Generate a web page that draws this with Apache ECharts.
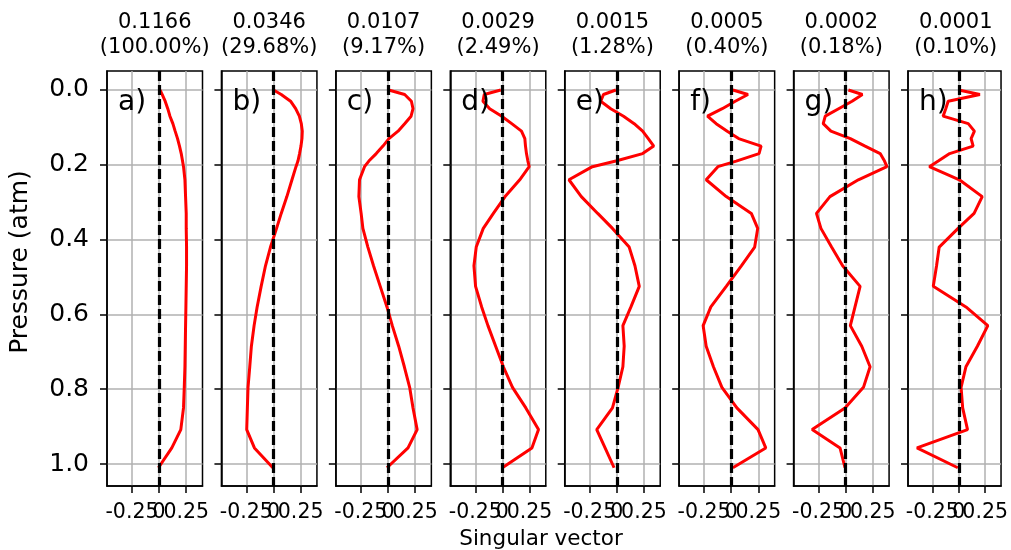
<!DOCTYPE html>
<html>
<head>
<meta charset="utf-8">
<script src="https://cdn.jsdelivr.net/npm/echarts@6/dist/echarts.min.js"></script>
<style>
html,body{margin:0;padding:0;background:#fff;}
#chart{width:1011px;height:550px;}
</style>
</head>
<body>
<div id="chart"></div>
<script>
// ---- data ----
const pressure = [0, 0.012, 0.03, 0.05, 0.07, 0.09, 0.11, 0.13, 0.15, 0.17, 0.19, 0.205, 0.24, 0.285, 0.33, 0.37, 0.42, 0.47, 0.525, 0.58, 0.63, 0.685, 0.74, 0.795, 0.85, 0.908, 0.957, 1.01];
const sv_a = [0.01, 0.028, 0.056, 0.08, 0.10, 0.127, 0.148, 0.17, 0.188, 0.204, 0.216, 0.225, 0.238, 0.244, 0.25, 0.25, 0.253, 0.253, 0.25, 0.247, 0.244, 0.241, 0.238, 0.232, 0.225, 0.20, 0.117, -0.006];
const sv_b = [0, 0.071, 0.157, 0.204, 0.238, 0.256, 0.265, 0.262, 0.253, 0.24, 0.225, 0.207, 0.17, 0.123, 0.071, 0.028, -0.028, -0.074, -0.114, -0.151, -0.179, -0.204, -0.219, -0.235, -0.241, -0.247, -0.176, -0.006];
const sv_c = [0.006, 0.154, 0.216, 0.231, 0.213, 0.154, 0.093, 0.009, -0.046, -0.108, -0.176, -0.216, -0.262, -0.268, -0.247, -0.231, -0.185, -0.133, -0.071, -0.009, 0.04, 0.099, 0.151, 0.2, 0.231, 0.269, 0.185, -0.009];
const sv_d = [-0.015, -0.167, -0.179, -0.117, -0.006, 0.086, 0.176, 0.207, 0.213, 0.222, 0.235, 0.247, 0.16, 0.025, -0.083, -0.176, -0.241, -0.262, -0.247, -0.191, -0.133, -0.062, 0.009, 0.093, 0.216, 0.333, 0.272, 0];
const sv_e = [-0.009, -0.123, -0.148, -0.056, 0.062, 0.16, 0.238, 0.29, 0.34, 0.238, -0.009, -0.225, -0.441, -0.327, -0.176, -0.04, 0.114, 0.167, 0.207, 0.13, 0.056, 0.068, 0.056, 0.012, -0.04, -0.185, -0.108, -0.025];
const sv_f = [0.015, 0.154, 0.037, -0.083, -0.219, -0.139, -0.037, 0.068, 0.275, 0.256, 0.046, -0.123, -0.231, -0.046, 0.185, 0.244, 0.216, 0.093, -0.046, -0.188, -0.259, -0.231, -0.164, -0.086, 0.052, 0.247, 0.318, 0.015];
const sv_g = [0.025, 0.154, 0.059, -0.065, -0.188, -0.207, -0.136, 0.043, 0.179, 0.318, 0.358, 0.38, 0.117, -0.145, -0.269, -0.228, -0.13, -0.028, 0.133, 0.086, 0.043, 0.148, 0.225, 0.164, -0.006, -0.309, -0.052, -0.006];
const sv_h = [0.0, 0.2, -0.1, -0.123, -0.148, 0.09, 0.148, 0.117, 0.136, -0.086, -0.194, -0.278, 0.006, 0.222, 0.145, -0.006, -0.185, -0.21, -0.241, 0.068, 0.275, 0.176, 0.068, 0.022, 0.037, 0.083, -0.395, -0.009];
const singularValues = ['0.1166', '0.0346', '0.0107', '0.0029', '0.0015', '0.0005', '0.0002', '0.0001'];
const percents = ['(100.00%)', '(29.68%)', '(9.17%)', '(2.49%)', '(1.28%)', '(0.40%)', '(0.18%)', '(0.10%)'];
const panelLetters = ['a)', 'b)', 'c)', 'd)', 'e)', 'f)', 'g)', 'h)'];
const xTickValues = [-0.25, 0, 0.25];
const xTickLabels = ['-0.25', '0', '0.25'];
const yTickValues = [0, 0.2, 0.4, 0.6, 0.8, 1.0];
const yTickLabels = ['0.0', '0.2', '0.4', '0.6', '0.8', '1.0'];
const zeroLine = 0;
const xLabel = 'Singular vector';
const yLabel = 'Pressure (atm)';

// ---- layout ----
const allSeries = [sv_a, sv_b, sv_c, sv_d, sv_e, sv_f, sv_g, sv_h];
const FONT = 'DejaVu Sans';
const L0 = 107, STEP = 114.43, W = 95.5, TOP = 71, H = 415;
const XMIN = -0.48, XMAX = 0.40, YMIN = -0.0508, YMAX = 1.0588;

function pick(values, labels, v) {
  const k = values.findIndex(t => Math.abs(t - v) < 1e-9);
  return k >= 0 ? labels[k] : '';
}
// split x tick labels in two groups so ECharts does not drop overlapping ones
const xOuterVals = xTickValues.filter(v => v !== 0);
const xInnerVals = xTickValues.filter(v => v === 0);

const grids = [], xAxes = [], yAxes = [], series = [], graphics = [];
const xLabelStyle = {margin: 16, color: '#000', fontFamily: FONT, fontSize: 20.5,
  hideOverlap: false, showMinLabel: true, showMaxLabel: true,
  formatter: v => pick(xTickValues, xTickLabels, v)};
allSeries.forEach((vals, i) => {
  const left = L0 + i * STEP;
  grids.push({left: left, top: TOP, width: W, height: H, show: true,
    borderColor: '#000', borderWidth: 1.5, backgroundColor: 'transparent'});
  xAxes.push({
    type: 'value', gridIndex: i, min: XMIN, max: XMAX, position: 'bottom',
    axisLine: {show: true, onZero: false, lineStyle: {color: '#000', width: 1.5}},
    axisTick: {show: true, inside: false, length: 7, customValues: xTickValues, lineStyle: {color: '#000', width: 1.5}},
    axisLabel: Object.assign({show: true, customValues: xOuterVals}, xLabelStyle),
    splitLine: {show: true, lineStyle: {color: '#b0b0b0', width: 1.5}}
  });
  xAxes.push({
    type: 'value', gridIndex: i, min: XMIN, max: XMAX, position: 'bottom',
    axisLine: {show: false, onZero: false},
    axisTick: {show: false},
    axisLabel: Object.assign({show: true, customValues: xInnerVals}, xLabelStyle),
    splitLine: {show: false}
  });
  yAxes.push({
    type: 'value', gridIndex: i, min: YMIN, max: YMAX, inverse: true,
    axisLine: {show: true, onZero: false, lineStyle: {color: '#000', width: 1.5}},
    axisTick: {show: true, inside: false, length: 7, customValues: yTickValues, lineStyle: {color: '#000', width: 1.5}},
    axisLabel: {show: i === 0, customValues: yTickValues, margin: 18, color: '#000',
      fontFamily: FONT, fontSize: 25, showMinLabel: true, showMaxLabel: true,
      formatter: v => pick(yTickValues, yTickLabels, v)},
    splitLine: {show: true, lineStyle: {color: '#b0b0b0', width: 1.5}}
  });
  series.push({
    type: 'line', xAxisIndex: 2 * i, yAxisIndex: i,
    data: vals.map((v, k) => [v, pressure[k]]),
    showSymbol: false, symbol: 'none', smooth: false, z: 3,
    lineStyle: {color: '#ff0000', width: 3},
    markLine: {
      silent: true, symbol: 'none', z: 5, animation: false,
      label: {show: false},
      lineStyle: {color: '#000', type: [10, 4], width: 3.2},
      data: [{xAxis: zeroLine}]
    }
  });
  const cx = left + W / 2;
  graphics.push({type: 'text', x: cx, y: 35, z: 10,
    style: {text: singularValues[i] + '\n' + percents[i], fontFamily: FONT, fontSize: 21,
      lineHeight: 25, fill: '#000', align: 'center', verticalAlign: 'middle'}});
  graphics.push({type: 'text', x: left + 11, y: 103, z: 10,
    style: {text: panelLetters[i], fontFamily: FONT, fontSize: 28, fill: '#000',
      align: 'left', verticalAlign: 'middle'}});
});
graphics.push({type: 'text', x: 20, y: 262, rotation: Math.PI / 2, z: 10,
  style: {text: yLabel, fontFamily: FONT, fontSize: 25, fill: '#000', align: 'center', verticalAlign: 'middle'}});
graphics.push({type: 'text', x: 541, y: 539, z: 10,
  style: {text: xLabel, fontFamily: FONT, fontSize: 21.5, fill: '#000', align: 'center', verticalAlign: 'middle'}});

const chart = echarts.init(document.getElementById('chart'), null, {renderer: 'canvas'});
chart.setOption({
  animation: false,
  backgroundColor: '#fff',
  grid: grids, xAxis: xAxes, yAxis: yAxes, series: series,
  graphic: graphics
});
</script>
</body>
</html>
